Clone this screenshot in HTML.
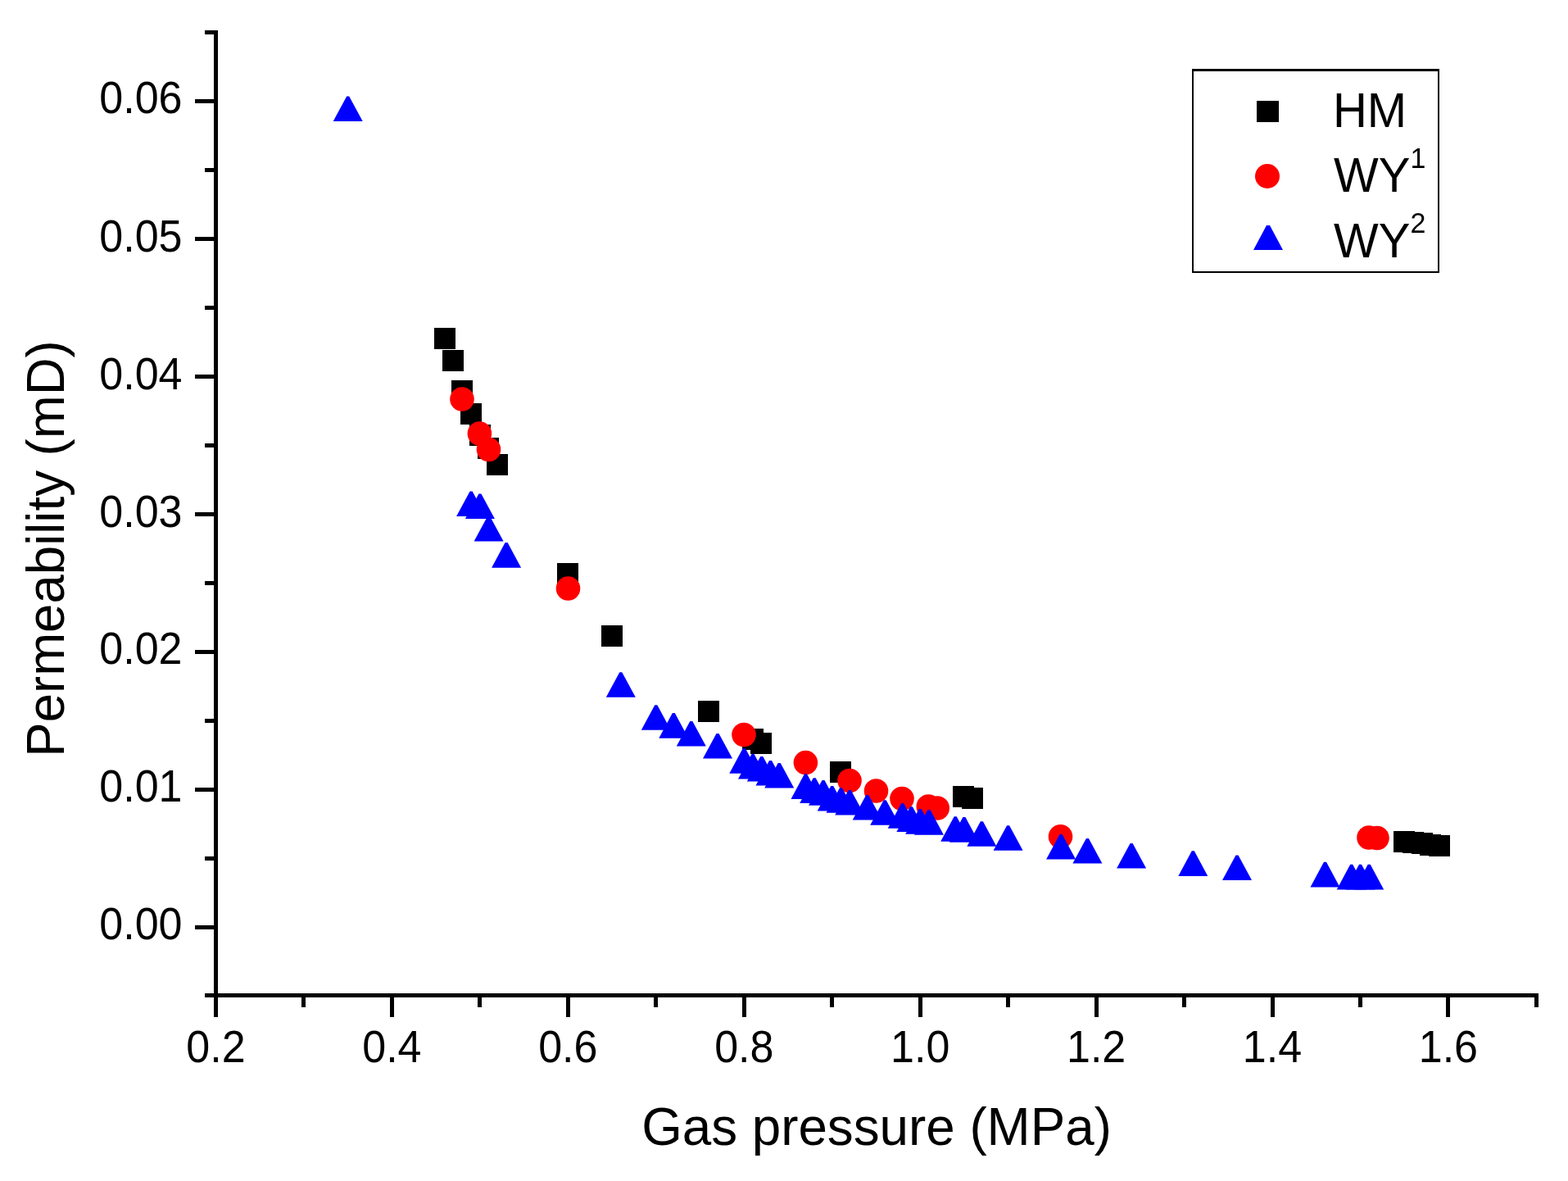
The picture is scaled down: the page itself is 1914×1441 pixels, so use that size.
<!DOCTYPE html>
<html><head><meta charset="utf-8"><title>Permeability vs Gas pressure</title>
<style>
html,body{margin:0;padding:0;background:#fff;}
body{width:1914px;height:1441px;overflow:hidden;}
svg{display:block;}
text{font-family:"Liberation Sans",Arial,sans-serif;fill:#000;}
</style></head><body>
<svg width="1914" height="1441" viewBox="0 0 1914 1441">
<rect x="0" y="0" width="1914" height="1441" fill="#fff"/>
<g fill="#000" shape-rendering="crispEdges">
<rect x="261" y="37" width="5" height="1204"/>
<rect x="250" y="1212" width="1628" height="5"/>
<rect x="238" y="1129" width="24" height="5"/>
<rect x="250" y="1045" width="12" height="5"/>
<rect x="238" y="961" width="24" height="5"/>
<rect x="250" y="877" width="12" height="5"/>
<rect x="238" y="793" width="24" height="5"/>
<rect x="250" y="709" width="12" height="5"/>
<rect x="238" y="625" width="24" height="5"/>
<rect x="250" y="541" width="12" height="5"/>
<rect x="238" y="457" width="24" height="5"/>
<rect x="250" y="373" width="12" height="5"/>
<rect x="238" y="289" width="24" height="5"/>
<rect x="250" y="205" width="12" height="5"/>
<rect x="238" y="121" width="24" height="5"/>
<rect x="250" y="37" width="12" height="5"/>
<rect x="261" y="1216" width="5" height="25"/>
<rect x="368" y="1216" width="5" height="13"/>
<rect x="476" y="1216" width="5" height="25"/>
<rect x="583" y="1216" width="5" height="13"/>
<rect x="691" y="1216" width="5" height="25"/>
<rect x="798" y="1216" width="5" height="13"/>
<rect x="906" y="1216" width="5" height="25"/>
<rect x="1013" y="1216" width="5" height="13"/>
<rect x="1121" y="1216" width="5" height="25"/>
<rect x="1228" y="1216" width="5" height="13"/>
<rect x="1336" y="1216" width="5" height="25"/>
<rect x="1443" y="1216" width="5" height="13"/>
<rect x="1551" y="1216" width="5" height="25"/>
<rect x="1658" y="1216" width="5" height="13"/>
<rect x="1765" y="1216" width="5" height="25"/>
<rect x="1873" y="1216" width="5" height="13"/>
</g>
<g font-size="52">
<text transform="translate(222.5,1146.2) scale(1,1.05)" text-anchor="end">0.00</text>
<text transform="translate(222.5,978.4) scale(1,1.05)" text-anchor="end">0.01</text>
<text transform="translate(222.5,810.3) scale(1,1.05)" text-anchor="end">0.02</text>
<text transform="translate(222.5,643.4) scale(1,1.05)" text-anchor="end">0.03</text>
<text transform="translate(222.5,474.5) scale(1,1.05)" text-anchor="end">0.04</text>
<text transform="translate(222.5,306.5) scale(1,1.05)" text-anchor="end">0.05</text>
<text transform="translate(222.5,138.1) scale(1,1.05)" text-anchor="end">0.06</text>
<text transform="translate(263.5,1295.5) scale(1,1.05)" text-anchor="middle">0.2</text>
<text transform="translate(478.4,1295.5) scale(1,1.05)" text-anchor="middle">0.4</text>
<text transform="translate(693.3,1295.5) scale(1,1.05)" text-anchor="middle">0.6</text>
<text transform="translate(908.3,1295.5) scale(1,1.05)" text-anchor="middle">0.8</text>
<text transform="translate(1123.2,1295.5) scale(1,1.05)" text-anchor="middle">1.0</text>
<text transform="translate(1338.1,1295.5) scale(1,1.05)" text-anchor="middle">1.2</text>
<text transform="translate(1553.0,1295.5) scale(1,1.05)" text-anchor="middle">1.4</text>
<text transform="translate(1767.9,1295.5) scale(1,1.05)" text-anchor="middle">1.6</text>
</g>
<text transform="translate(1070,1397) scale(0.996,1)" font-size="64" text-anchor="middle">Gas pressure (MPa)</text>
<text transform="translate(78,669.5) rotate(-90) scale(0.993,1)" x="0" y="0" font-size="64" text-anchor="middle">Permeability (mD)</text>
<g fill="#000" shape-rendering="crispEdges">
<rect x="530" y="400" width="26" height="26"/>
<rect x="540" y="427" width="26" height="26"/>
<rect x="551" y="464" width="26" height="26"/>
<rect x="562" y="492" width="26" height="26"/>
<rect x="573" y="518" width="26" height="26"/>
<rect x="583" y="534" width="26" height="26"/>
<rect x="594" y="554" width="26" height="26"/>
<rect x="680" y="687" width="26" height="26"/>
<rect x="734" y="763" width="26" height="26"/>
<rect x="852" y="855" width="26" height="26"/>
<rect x="906" y="889" width="26" height="26"/>
<rect x="916" y="894" width="26" height="26"/>
<rect x="1013" y="929" width="26" height="26"/>
<rect x="1163" y="959" width="26" height="26"/>
<rect x="1174" y="961" width="26" height="26"/>
<rect x="1701" y="1014" width="26" height="26"/>
<rect x="1712" y="1015" width="26" height="26"/>
<rect x="1723" y="1016" width="26" height="26"/>
<rect x="1733" y="1018" width="26" height="26"/>
<rect x="1744" y="1019" width="26" height="26"/>
</g>
<g fill="#f00">
<circle cx="564.0" cy="487.0" r="14.8"/>
<circle cx="585.4" cy="529.0" r="14.8"/>
<circle cx="596.5" cy="548.5" r="14.8"/>
<circle cx="693.5" cy="718.0" r="14.8"/>
<circle cx="908.0" cy="896.5" r="14.8"/>
<circle cx="983.4" cy="930.6" r="14.8"/>
<circle cx="1037.0" cy="952.5" r="14.8"/>
<circle cx="1069.5" cy="965.0" r="14.8"/>
<circle cx="1101.0" cy="974.5" r="14.8"/>
<circle cx="1133.3" cy="984.0" r="14.8"/>
<circle cx="1144.2" cy="986.0" r="14.8"/>
<circle cx="1294.5" cy="1020.7" r="14.8"/>
<circle cx="1671.0" cy="1022.0" r="14.8"/>
<circle cx="1681.0" cy="1022.5" r="14.8"/>
</g>
<g fill="#00f">
<polygon points="406.7,148.0 442.7,148.0 426.2,117.4 423.2,117.4"/>
<polygon points="557.1,630.0 593.1,630.0 576.6,599.4 573.6,599.4"/>
<polygon points="567.9,633.0 603.9,633.0 587.4,602.4 584.4,602.4"/>
<polygon points="578.6,660.6 614.6,660.6 598.1,630.0 595.1,630.0"/>
<polygon points="600.1,692.7 636.1,692.7 619.6,662.1 616.6,662.1"/>
<polygon points="739.8,850.8 775.8,850.8 759.3,820.2 756.3,820.2"/>
<polygon points="782.8,890.8 818.8,890.8 802.3,860.2 799.3,860.2"/>
<polygon points="804.3,900.7 840.3,900.7 823.8,870.1 820.8,870.1"/>
<polygon points="825.8,910.6 861.8,910.6 845.3,880.0 842.3,880.0"/>
<polygon points="858.0,925.5 894.0,925.5 877.5,894.9 874.5,894.9"/>
<polygon points="890.3,943.7 926.3,943.7 909.8,913.1 906.8,913.1"/>
<polygon points="901.0,950.5 937.0,950.5 920.5,919.9 917.5,919.9"/>
<polygon points="911.8,953.6 947.8,953.6 931.3,923.0 928.3,923.0"/>
<polygon points="922.5,958.5 958.5,958.5 942.0,927.9 939.0,927.9"/>
<polygon points="933.2,961.6 969.2,961.6 952.7,931.0 949.7,931.0"/>
<polygon points="965.5,974.9 1001.5,974.9 985.0,944.3 982.0,944.3"/>
<polygon points="976.2,979.9 1012.2,979.9 995.7,949.3 992.7,949.3"/>
<polygon points="987.0,982.7 1023.0,982.7 1006.5,952.1 1003.5,952.1"/>
<polygon points="997.7,989.6 1033.7,989.6 1017.2,959.0 1014.2,959.0"/>
<polygon points="1008.5,991.8 1044.5,991.8 1028.0,961.2 1025.0,961.2"/>
<polygon points="1019.2,994.6 1055.2,994.6 1038.7,964.0 1035.7,964.0"/>
<polygon points="1040.7,1000.6 1076.7,1000.6 1060.2,970.0 1057.2,970.0"/>
<polygon points="1062.2,1006.8 1098.2,1006.8 1081.7,976.2 1078.7,976.2"/>
<polygon points="1083.7,1010.8 1119.7,1010.8 1103.2,980.2 1100.2,980.2"/>
<polygon points="1094.4,1014.9 1130.4,1014.9 1113.9,984.3 1110.9,984.3"/>
<polygon points="1105.2,1017.7 1141.2,1017.7 1124.7,987.1 1121.7,987.1"/>
<polygon points="1115.9,1018.7 1151.9,1018.7 1135.4,988.1 1132.4,988.1"/>
<polygon points="1148.2,1026.8 1184.2,1026.8 1167.7,996.2 1164.7,996.2"/>
<polygon points="1158.9,1027.7 1194.9,1027.7 1178.4,997.1 1175.4,997.1"/>
<polygon points="1180.4,1032.8 1216.4,1032.8 1199.9,1002.2 1196.9,1002.2"/>
<polygon points="1212.6,1037.8 1248.6,1037.8 1232.1,1007.2 1229.1,1007.2"/>
<polygon points="1277.1,1048.5 1313.1,1048.5 1296.6,1017.9 1293.6,1017.9"/>
<polygon points="1309.4,1053.5 1345.4,1053.5 1328.9,1022.9 1325.9,1022.9"/>
<polygon points="1363.1,1059.6 1399.1,1059.6 1382.6,1029.0 1379.6,1029.0"/>
<polygon points="1438.3,1068.9 1474.3,1068.9 1457.8,1038.3 1454.8,1038.3"/>
<polygon points="1492.0,1074.0 1528.0,1074.0 1511.5,1043.4 1508.5,1043.4"/>
<polygon points="1599.5,1082.4 1635.5,1082.4 1619.0,1051.8 1616.0,1051.8"/>
<polygon points="1631.7,1085.4 1667.7,1085.4 1651.2,1054.8 1648.2,1054.8"/>
<polygon points="1642.5,1085.4 1678.5,1085.4 1662.0,1054.8 1659.0,1054.8"/>
<polygon points="1653.2,1085.4 1689.2,1085.4 1672.7,1054.8 1669.7,1054.8"/>
</g>
<g>
<g fill="#000" shape-rendering="crispEdges">
<rect x="1455" y="84" width="302" height="3"/>
<rect x="1455" y="331" width="302" height="2"/>
<rect x="1455" y="84" width="2" height="249"/>
<rect x="1755" y="84" width="2" height="249"/>
</g>
<rect x="1534" y="123" width="27" height="26" fill="#000" shape-rendering="crispEdges"/>
<circle cx="1547" cy="215" r="15" fill="#f00"/>
<polygon points="1530,305 1566,305 1550,275 1546,275" fill="#00f"/>
<g font-size="58">
<text transform="translate(1627,155) scale(1,1.03)">HM</text>
<text transform="translate(1628,234) scale(1,1.03)">WY<tspan font-size="34" dy="-28.2">1</tspan></text>
<text transform="translate(1628,314) scale(1,1.03)">WY<tspan font-size="34" dy="-29">2</tspan></text>
</g>
</g>
</svg>
</body></html>
